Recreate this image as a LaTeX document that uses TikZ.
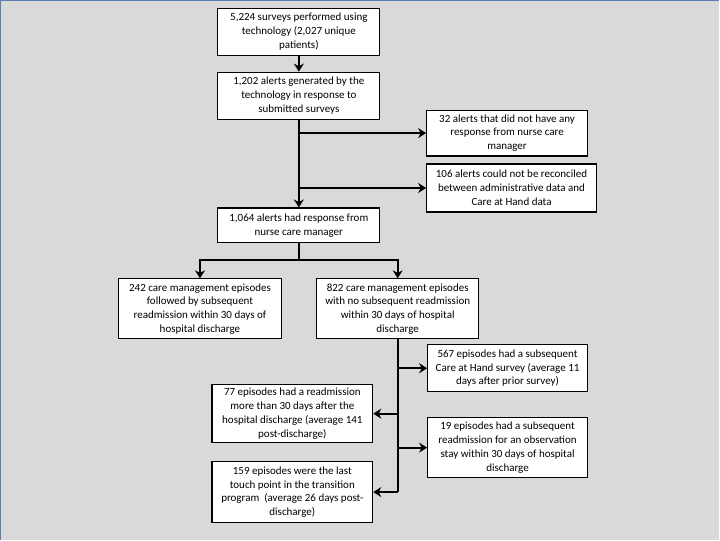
\documentclass[tikz,border=0pt]{standalone}
\usepackage{fontspec}
\setmainfont{Carlito}
\usetikzlibrary{arrows.meta}
\definecolor{bggray}{HTML}{D9D9D9}
\definecolor{edgeblue}{HTML}{5B7FB5}

\begin{document}
\begin{tikzpicture}[x=1pt,y=-1pt,
    box/.style ={draw, line width=1.1pt, fill=white, align=center, inner sep=0pt,
                 font=\fontsize{11}{13.8}\selectfont},
    flow/.style={line width=1.8pt, -{Stealth[length=8pt,width=10pt]}},
    trunk/.style={line width=1.8pt}]
   % page
   \fill[bggray] (0,0) rectangle (720,540);
   \draw[edgeblue, line width=1.5pt] (0.5,540) -- (0.5,0.5) -- (720,0.5);
   \useasboundingbox (0,0) rectangle (720,540);
   % boxes
   \node[box, minimum width=162pt, minimum height=47pt] (surveys) at (299,31.5)
      {5,224 surveys performed using\\technology (2,027 unique\\patients)};
   \node[box, minimum width=162pt, minimum height=47pt] (alerts) at (299,95.5)
      {1,202 alerts generated by the\\technology in response to\\submitted surveys};
   \node[box, minimum width=161pt, minimum height=46pt] (noresp) at (507.5,133)
      {32 alerts that did not have any\\response from nurse care\\manager};
   \node[box, minimum width=170pt, minimum height=48pt] (unrec) at (512,188)
      {106 alerts could not be reconciled\\between administrative data and\\Care at Hand data};
   \node[box, minimum width=162pt, minimum height=35pt] (resp) at (299,225.5)
      {1,064 alerts had response from\\nurse care manager};
   \node[box, minimum width=164pt, minimum height=60pt] (readm) at (200,309)
      {242 care management episodes\\followed by subsequent\\readmission within 30 days of\\hospital discharge};
   \node[box, minimum width=162pt, minimum height=60pt] (noreadm) at (398,309)
      {822 care management episodes\\with no subsequent readmission\\within 30 days of hospital\\discharge};
   \node[box, minimum width=160pt, minimum height=47pt] (nextsurv) at (508,368.5)
      {567 episodes had a subsequent\\Care at Hand survey (average 11\\days after prior survey)};
   \node[box, minimum width=161pt, minimum height=58pt] (late) at (292.5,414)
      {77 episodes had a readmission\\more than 30 days after the\\hospital discharge (average 141\\post-discharge)};
   \node[box, minimum width=160pt, minimum height=60pt] (obs) at (508,448)
      {19 episodes had a subsequent\\readmission for an observation\\stay within 30 days of hospital\\discharge};
   \node[box, minimum width=161pt, minimum height=61pt] (last) at (292.5,492.5)
      {159 episodes were the last\\touch point in the transition\\program\ \ (average 26 days post-\\discharge)};
   % junctions
   \coordinate (ja) at (299,133);
   \coordinate (jb) at (299,188);
   \coordinate (jc) at (299,260);
   \coordinate (t1) at (398,368.5);
   \coordinate (t2) at (398,414);
   \coordinate (t3) at (398,448);
   \coordinate (t4) at (398,492.5);
   % connectors
   \draw[flow] (surveys) -- (alerts);
   \draw[flow] (alerts) -- (resp);
   \draw[flow] (ja) -- (noresp);
   \draw[flow] (jb) -- (unrec);
   \draw[trunk] (resp) -- (jc);
   \draw[flow] (jc) -| (readm);
   \draw[flow] (jc) -| (noreadm);
   \draw[trunk] (noreadm) -- (t4);
   \draw[flow] (t1) -- (nextsurv);
   \draw[flow] (t2) -- (late);
   \draw[flow] (t3) -- (obs);
   \draw[flow] (t4) -- (last);
\end{tikzpicture}
\end{document}
